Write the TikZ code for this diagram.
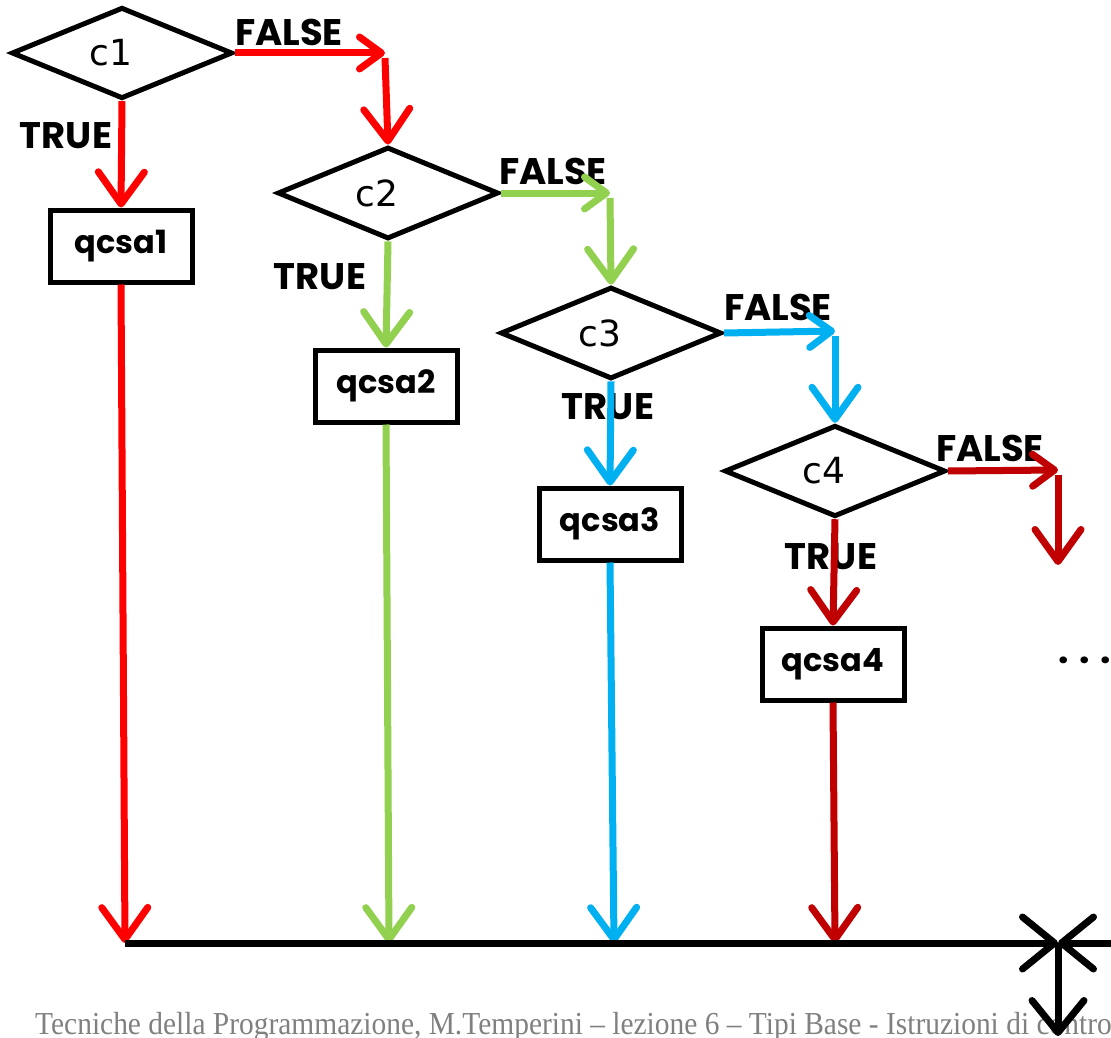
\documentclass[tikz,border=0pt]{standalone}
\usepackage{fontspec}
\setmainfont{Poppins}
\newfontfamily\condfont{DejaVu Sans}
\newfontfamily\footfont{Liberation Serif}
\usetikzlibrary{shapes.geometric,arrows.meta}
\definecolor{cred}{HTML}{FF0000}
\definecolor{cgreen}{HTML}{92D050}
\definecolor{cblue}{HTML}{00B0F0}
\definecolor{cdark}{HTML}{C00000}
\definecolor{footgray}{HTML}{808080}

\begin{document}
\begin{tikzpicture}[x=1pt,y=-1pt,
  cond/.style={diamond, draw, line width=5pt, minimum width=221pt,
    minimum height=87pt, inner sep=0pt, font=\condfont\fontsize{36}{40}\selectfont},
  act/.style={rectangle, draw, line width=5pt, minimum width=142pt,
    minimum height=72pt, inner sep=0pt, font=\bfseries\fontsize{32}{36}\selectfont},
  lbl/.style={font=\bfseries\fontsize{37}{40}\selectfont, inner sep=0pt},
  flow/.style={line width=7pt, -{Straight Barb[length=32pt,width=46pt,round]}},
  side/.style={line width=7pt, -{Straight Barb[length=22pt,width=32pt,round]}},
  mergeline/.style={line width=7pt, black, -{Straight Barb[length=32pt,width=52pt,round]}},
]
\useasboundingbox (0,0) rectangle (1111,1038);

% footer line
\node[anchor=base west, inner sep=0pt, text=footgray,
  font=\footfont\fontsize{32}{36}\selectfont, xscale=0.92] (foot) at (35,1034)
  {Tecniche della Programmazione, M.Temperini – lezione 6 – Tipi Base - Istruzioni di controllo};

% decisions and actions
\node[cond] (c1) at (122,53) {c1\kern22pt};
\node[cond] (c2) at (388,193) {c2\kern22pt};
\node[cond] (c3) at (611,333) {c3\kern22pt};
\node[cond] (c4) at (835,471) {c4\kern22pt};
\node[act] (q1) at (121,246) {qcsa1};
\node[act] (q2) at (386,386) {qcsa2};
\node[act] (q3) at (610,524) {qcsa3};
\node[act] (q4) at (833,664) {qcsa4};

% branch labels
\node[lbl] (f1l) at (289,32) {FALSE};
\node[lbl] (t1l) at (66,136) {TRUE};
\node[lbl] (f2l) at (553,171) {FALSE};
\node[lbl] (t2l) at (320,277) {TRUE};
\node[lbl] (f3l) at (778,307) {FALSE};
\node[lbl] (t3l) at (608,407) {TRUE};
\node[lbl] (f4l) at (990,448) {FALSE};
\node[lbl] (t4l) at (831,557) {TRUE};
\node[lbl] (dots) at (1085,660) {. . .};

% corner and junction points
\coordinate (k1) at (385,53);
\coordinate (k2) at (610,193);
\coordinate (k3) at (835,331);
\coordinate (k4) at (1058,470);
\coordinate (e4) at (1058,565);
\coordinate (b1) at (125,943);
\coordinate (b2) at (389,943);
\coordinate (b3) at (614,943);
\coordinate (b4) at (835,943);
\coordinate (J) at (1058,943);
\coordinate (R) at (1125,943);
\coordinate (out) at (1058,1036);

% level 1
\draw[flow, cred] (c1.south) -- (q1.north);
\draw[side, cred] (c1.east) -- (k1);
\draw[flow, cred] ([yshift=-5pt]k1) -- (c2.north);
\draw[flow, cred] (q1.south) -- (b1);
% level 2
\draw[flow, cgreen] (c2.south) -- (q2.north);
\draw[side, cgreen] (c2.east) -- (k2);
\draw[flow, cgreen] ([yshift=-5pt]k2) -- (c3.north);
\draw[flow, cgreen] (q2.south) -- (b2);
% level 3
\draw[flow, cblue] (c3.south) -- (q3.north);
\draw[side, cblue] (c3.east) -- (k3);
\draw[flow, cblue] ([yshift=-5pt]k3) -- (c4.north);
\draw[flow, cblue] (q3.south) -- (b3);
% level 4
\draw[flow, cdark] (c4.south) -- (q4.north);
\draw[side, cdark] (c4.east) -- (k4);
\draw[flow, cdark] ([yshift=-5pt]k4) -- (e4);
\draw[flow, cdark] (q4.south) -- (b4);

% collecting line
\draw[mergeline] (b1) -- (J);
\draw[mergeline] (R) -- (J);
\draw[mergeline] (J) -- (out);
\end{tikzpicture}
\end{document}
